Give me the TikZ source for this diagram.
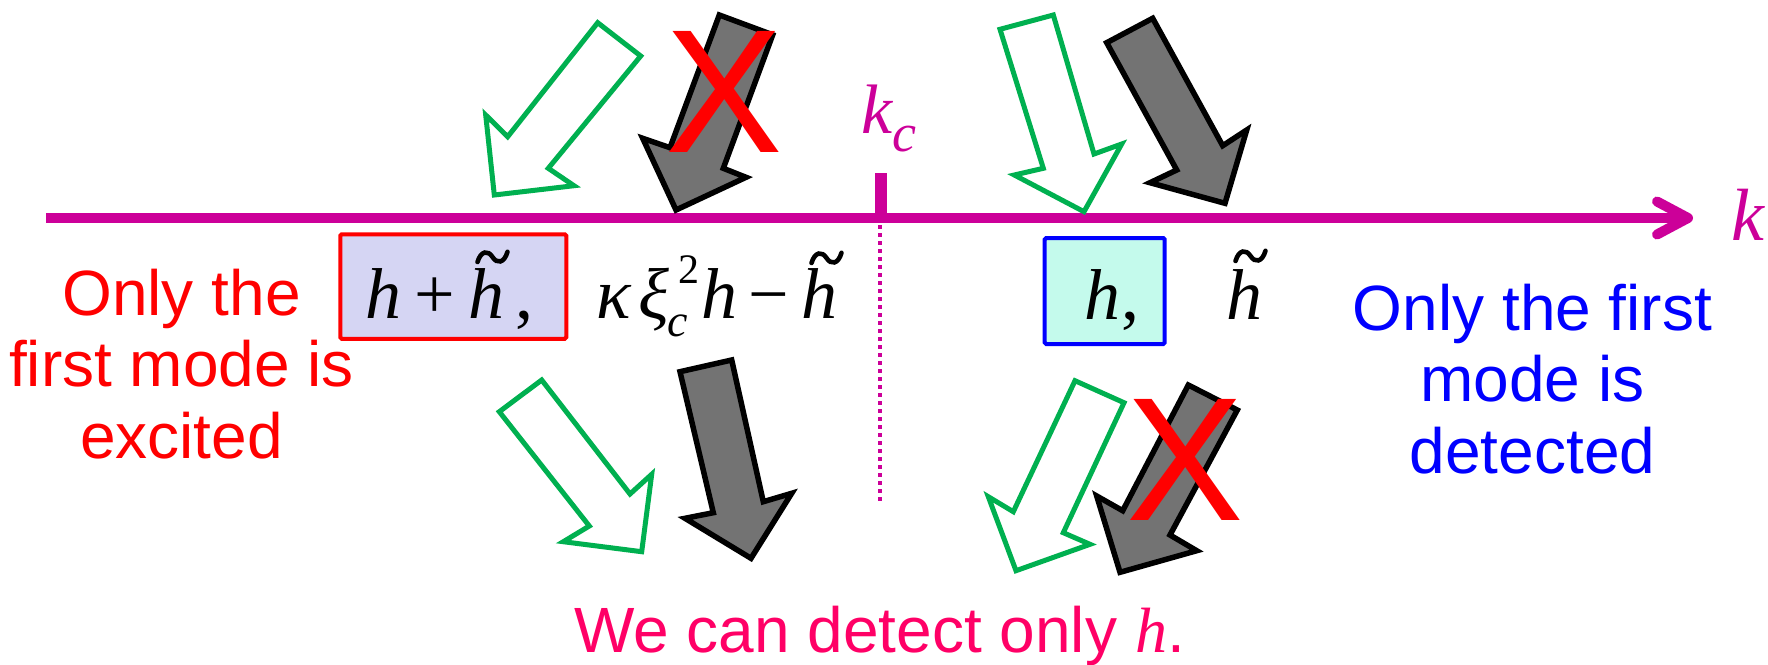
\documentclass[tikz,border=0pt]{standalone}
\usepackage{fontspec}
\setmainfont{Liberation Sans}
\newfontfamily\tmsfont{Liberation Serif}
\definecolor{mag}{HTML}{CC0099}
\definecolor{grn}{HTML}{00B050}
\definecolor{gry}{HTML}{737373}
\definecolor{lav}{HTML}{D5D5F3}
\definecolor{mint}{HTML}{C4FAEC}
\definecolor{pinkred}{HTML}{FF0066}
\tikzset{
  lbl/.style={inner sep=0, font=\fontsize{64}{71.7}\selectfont, align=center},
  fml/.style={inner sep=0, anchor=base west, font=\tmsfont\fontsize{72}{72}\selectfont\itshape},
  fmlup/.style={fml, font=\tmsfont\fontsize{72}{72}\selectfont\upshape},
  scr/.style={inner sep=0, anchor=base west, font=\tmsfont\fontsize{#1}{#1}\selectfont},
  scrit/.style={inner sep=0, anchor=base west, font=\tmsfont\fontsize{#1}{#1}\selectfont\itshape},
  garrow/.style={draw=grn, line width=5, fill=white},
  karrow/.style={draw=black, line width=5.5, fill=gry},
  xmark/.style={inner sep=0, text=red, font=\fontsize{176}{176}\selectfont},
  axisline/.style={draw=mag, line width=10},
  tild/.pic={\draw[line width=4.6, line cap=round] (2.5,13) .. controls (6,1.5) and (13,1) .. (17.5,8) .. controls (22,15) and (29,14.5) .. (32.5,2.8);}
}
\begin{document}
\begin{tikzpicture}[x=1pt, y=-1pt]
\useasboundingbox (0,0) rectangle (1768,664);

% axis
\coordinate (a0) at (46,218);
\coordinate (a1) at (1688,218);
\coordinate (au) at (1657,201.5);
\coordinate (ad) at (1657,234.5);
\draw[axisline] (a0) -- (a1);
\draw[axisline, line cap=round, line join=round] (au) -- (a1) -- (ad);
\node[inner sep=0, anchor=base west, text=mag, font=\tmsfont\fontsize{74}{74}\selectfont\itshape] (klab) at (1731,240) {k};

% k_c tick
\coordinate (t0) at (881,173);
\coordinate (t1) at (881,218);
\draw[draw=mag, line width=12] (t0) -- (t1);
\node[inner sep=0, anchor=base west, text=mag, font=\tmsfont\fontsize{70}{70}\selectfont\itshape] (kc) at (861,133) {k\raisebox{-18pt}{\fontsize{54}{54}\selectfont c}};
\coordinate (d0) at (880,225);
\coordinate (d1) at (880,505);
\draw[draw=mag, line width=3.3, dash pattern=on 3.5pt off 4.5pt] (d0) -- (d1);

% top arrows
\filldraw[garrow] (597.7,22.7) -- (507.7,136.7) -- (485.7,115) -- (494.3,195) -- (574,185.7) -- (548.3,168.3) -- (640.7,56) -- cycle;
\filldraw[karrow] (719.3,15) -- (670,147.7) -- (642.7,138.3) -- (676,210) -- (746,177.3) -- (723.3,168.3) -- (772.7,34.8) -- cycle;
\node[xmark] (x1) at (724,92) {X};
\filldraw[garrow] (1000,29.3) -- (1043.3,168.3) -- (1014.3,175) -- (1084,211.7) -- (1121.7,144) -- (1094,154) -- (1053.3,15) -- cycle;
\filldraw[karrow] (1106.7,42.7) -- (1176.7,170) -- (1150,182.7) -- (1225,203.3) -- (1246.7,130) -- (1222.7,145.7) -- (1152.7,18.3) -- cycle;

% bottom arrows
\filldraw[garrow] (499.3,411.7) -- (589.3,526) -- (563.3,541.7) -- (641.7,551.7) -- (651.7,474.3) -- (630,494) -- (541.7,380) -- cycle;
\filldraw[karrow] (680,371.7) -- (713.3,512.7) -- (685,518.3) -- (751,558.3) -- (791.7,493.3) -- (763.3,501.7) -- (731.7,360) -- cycle;
\filldraw[garrow] (1075,380.7) -- (1013.3,511.7) -- (988.3,496.7) -- (1016,570.7) -- (1090,544.3) -- (1063.3,532.7) -- (1124,402.7) -- cycle;
\filldraw[karrow] (1188.3,385) -- (1122.7,510.7) -- (1096.7,496) -- (1120,572.3) -- (1196.7,550.7) -- (1170,535) -- (1237.3,410) -- cycle;
\node[xmark] (x2) at (1185.5,460) {X};

% boxes
\node[draw=red, line width=4, fill=lav, rounded corners=1.5pt, minimum width=226, minimum height=104.5, inner sep=0] (bx1) at (453.3,286.5) {};
\node[draw=blue, line width=4, fill=mint, rounded corners=1.5pt, minimum width=120, minimum height=106, inner sep=0] (bx2) at (1104.7,291) {};

% formula 1
\node[fml] (f1a) at (365,318) {h};
\node[fmlup] (f1b) at (414,318) {+};
\node[fml] (f1c) at (468,318) {h};
\pic at (475,249) {tild};
\node[fmlup] (f1d) at (515,318) {,};

% formula 2
\node[fml] (f2a) at (596,318) {κ};
\node[fml] (f2b) at (638,318) {ξ};
\node[scr=42] (f2c) at (678,283) {2};
\node[scrit=46] (f2d) at (667,336) {c};
\node[fml] (f2e) at (701,318) {h};
\node[fmlup] (f2f) at (748,318) {−};
\node[fml] (f2g) at (801,318) {h};
\pic at (809,250) {tild};

% right formulas
\node[fml] (f3a) at (1084,319) {h};
\node[fmlup] (f3b) at (1121,319) {,};
\node[fml] (f4a) at (1226,319) {h};
\pic at (1233,248) {tild};

% labels
\node[lbl, text=red, anchor=base] (lt) at (181.5,458.4) {Only the\\first mode is\\excited};
\node[lbl, text=blue, anchor=base] (rt) at (1532.5,473.4) {Only the first\\mode is\\detected};
\node[lbl, text=pinkred, anchor=base] (bt) at (879.5,652.7) {We can detect only {\tmsfont\itshape h}.};
\end{tikzpicture}
\end{document}
